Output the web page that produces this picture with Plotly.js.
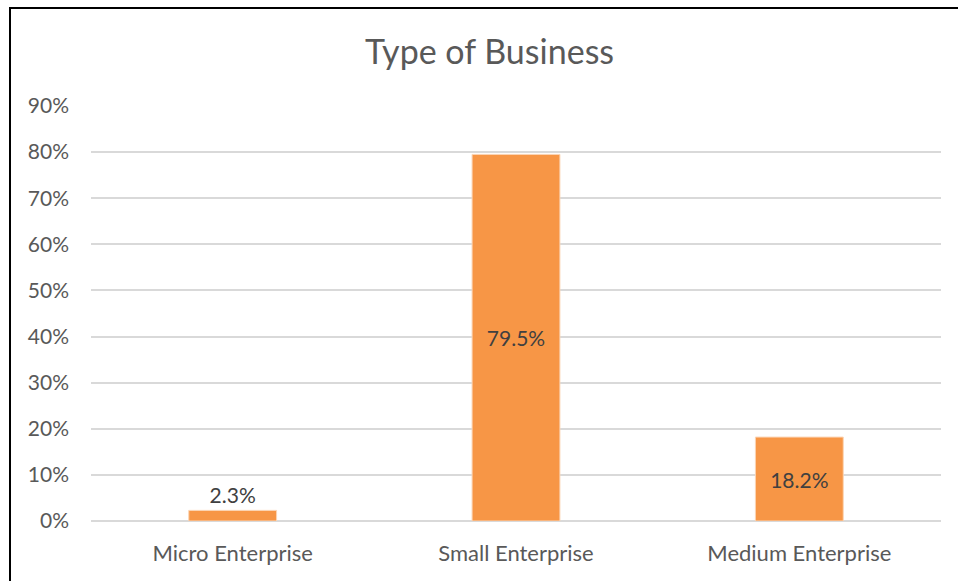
<!DOCTYPE html>
<html>
<head>
<meta charset="utf-8">
<script src="https://cdn.plot.ly/plotly-3.0.1.min.js"></script>
<style>
  html, body { margin: 0; padding: 0; background: #fff; }
  #chart { position: absolute; left: 0; top: 0; width: 958px; height: 581px; }
  #frame { position: absolute; left: 9px; top: 7px; width: 960px; height: 600px;
           border-left: 2px solid #000; border-top: 2px solid #000; pointer-events: none; }
</style>
</head>
<body>
<div id="chart"></div>
<div id="frame"></div>
<script>
const categories = ["Micro Enterprise", "Small Enterprise", "Medium Enterprise"];
const values = [0.023, 0.795, 0.182];
const labels = ["2.3%", "79.5%", "18.2%"];
const labelPositions = ["outside", "inside", "inside"];
const yTickValues = [0, 0.1, 0.2, 0.3, 0.4, 0.5, 0.6, 0.7, 0.8, 0.9];

const FONT = "Lato, 'Open Sans', sans-serif";
const GREY = "#595959";

const trace = {
  type: "bar",
  x: categories,
  y: values,
  text: labels,
  textposition: labelPositions,
  textangle: 0,
  insidetextanchor: "middle",
  textfont: { family: FONT, size: 21, color: "#404040" },
  cliponaxis: false,
  marker: { color: "#F79646", line: { color: "#FBD5B5", width: 1 } },
  hoverinfo: "none"
};

const layout = {
  width: 958,
  height: 581,
  margin: { l: 91, r: 17, t: 106, b: 60 },
  paper_bgcolor: "#ffffff",
  plot_bgcolor: "#ffffff",
  showlegend: false,
  bargap: 0.69,
  title: {
    text: "Type of Business",
    font: { family: FONT, size: 34, color: GREY },
    x: 0.511, xanchor: "center",
    y: 1 - 52 / 581, yanchor: "middle", yref: "container"
  },
  xaxis: {
    type: "category",
    showgrid: false,
    zeroline: false,
    showline: false,
    ticks: "",
    tickfont: { family: FONT, size: 22, color: GREY },
    ticklabelstandoff: 17
  },
  yaxis: {
    range: [0, 0.9],
    tickvals: yTickValues,
    tickformat: ".0%",
    showgrid: true,
    gridcolor: "#D9D9D9",
    gridwidth: 2,
    zeroline: true,
    zerolinecolor: "#D9D9D9",
    zerolinewidth: 2,
    showline: false,
    ticks: "",
    tickfont: { family: FONT, size: 21, color: GREY },
    ticklabelstandoff: 21
  }
};

Plotly.newPlot("chart", [trace], layout, { displayModeBar: false, staticPlot: true });
</script>
</body>
</html>
